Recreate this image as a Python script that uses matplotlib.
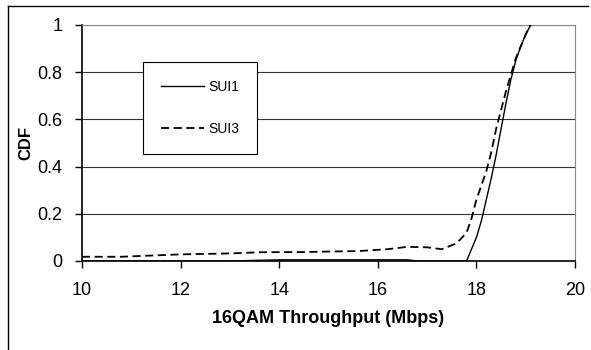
import matplotlib
matplotlib.use('Agg')
import matplotlib.pyplot as plt
from matplotlib.lines import Line2D

plt.rcParams['font.family'] = ['Liberation Sans', 'DejaVu Sans']

# CDF of 16QAM throughput, two SUI channel models
sui1_x = [10, 13, 14, 16.6, 16.8, 17.8, 18.0, 18.1, 18.2, 18.3, 18.4, 18.5,
          18.6, 18.7, 18.8, 18.9, 19.0, 19.1]
sui1_y = [0, 0, 0.005, 0.005, 0, 0, 0.1, 0.17, 0.26, 0.35, 0.45, 0.56,
          0.67, 0.77, 0.85, 0.91, 0.96, 1.0]

sui3_x = [10, 10.8, 12, 13, 13.6, 14.5, 15, 15.6, 16.2, 16.6, 17.0, 17.3,
          17.6, 17.8, 17.9, 18.0, 18.1, 18.2, 18.3, 18.4, 18.5, 18.6, 18.7,
          18.8, 18.9, 19.0, 19.1]
sui3_y = [0.018, 0.018, 0.028, 0.032, 0.037, 0.038, 0.04, 0.042, 0.05, 0.06,
          0.058, 0.05, 0.075, 0.12, 0.18, 0.26, 0.32, 0.38, 0.46, 0.56, 0.64,
          0.72, 0.79, 0.86, 0.91, 0.96, 1.0]

xticks = [10, 12, 14, 16, 18, 20]
yticks = [0, 0.2, 0.4, 0.6, 0.8, 1]
ytick_labels = ['0', '0.2', '0.4', '0.6', '0.8', '1']

fig = plt.figure(figsize=(5.91, 3.5), dpi=100)
ax = fig.add_axes([0.1387, 0.2543, 0.8343, 0.6743])

for yv in yticks[1:]:
    ax.axhline(yv, color='#333333', lw=0.8, zorder=1)

ax.plot(sui1_x, sui1_y, color='black', lw=1.0, label='SUI1', zorder=3)
ax.plot(sui3_x, sui3_y, color='black', lw=1.3, dashes=(4.5, 2.5), label='SUI3', zorder=3)

ax.set_xlim(10, 20)
ax.set_ylim(0, 1)
ax.set_xticks(xticks)
ax.set_yticks(yticks)
ax.set_yticklabels(ytick_labels)
ax.tick_params(direction='out', length=5, width=1, labelsize=13)
ax.tick_params(axis='x', pad=10)
ax.tick_params(axis='y', pad=9)

for s in ['top', 'right']:
    ax.spines[s].set_color('#888888')
    ax.spines[s].set_linewidth(0.8)
for s in ['left', 'bottom']:
    ax.spines[s].set_color('black')
    ax.spines[s].set_linewidth(1.2)

ax.set_xlabel('16QAM Throughput (Mbps)', fontsize=13, fontweight='bold', labelpad=8)
ax.set_ylabel('CDF', fontsize=12, fontweight='bold', labelpad=3)

leg = ax.legend(loc='upper left', bbox_to_anchor=(0.124, 0.843), borderaxespad=0,
                fontsize=10, frameon=True, fancybox=False, framealpha=1,
                edgecolor='black', borderpad=1.3, handlelength=3.1,
                handletextpad=0.3, labelspacing=2.0)
leg.get_frame().set_linewidth(0.8)

# chart area border (left and top edges)
fig.add_artist(Line2D([0.0135, 0.995], [0.983, 0.983], color='black', lw=1.0))
fig.add_artist(Line2D([0.0135, 0.0135], [0.0, 0.983], color='black', lw=1.0))

fig.savefig('out.png', dpi=100)
